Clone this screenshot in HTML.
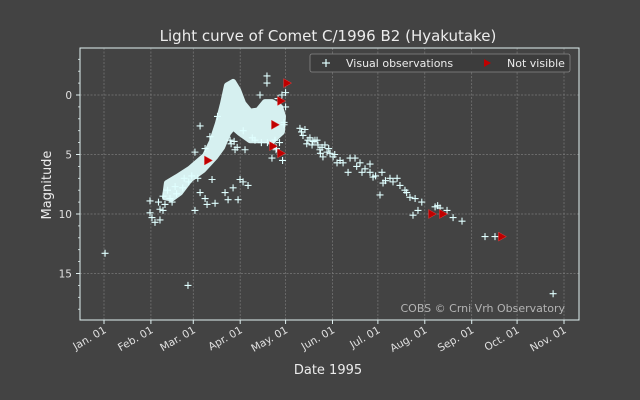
<!DOCTYPE html>
<html><head><meta charset="utf-8"><style>
html,body{margin:0;padding:0;background:#434343;}
svg{display:block;font-family:"DejaVu Sans","Liberation Sans",sans-serif;}
</style></head><body>
<svg id="chart" width="640" height="400">
<rect x="0" y="0" width="640" height="400" fill="#434343"/>
<text x="328" y="41" text-anchor="middle" font-size="15" fill="#ececec">Light curve of Comet C/1996 B2 (Hyakutake)</text>
<g id="grid"></g>
<g id="marks"></g>
<rect x="80" y="48" width="499" height="272" fill="none" stroke="#e0f0f0" stroke-width="1"/>
<g id="axes"></g>
<text transform="translate(51,185) rotate(-90)" text-anchor="middle" font-size="13" fill="#ececec">Magnitude</text>
<text x="328" y="374" text-anchor="middle" font-size="13" fill="#ececec">Date 1995</text>
<text x="565" y="312" text-anchor="end" font-size="11" fill="#b4b4b4">COBS © Crni Vrh Observatory</text>
<g>
<rect x="310" y="54" width="260" height="18" rx="2" fill="#3c3c3c" stroke="#888" stroke-width="0.8"/>
<g stroke="#e0ffff" stroke-width="1.2"><line x1="322" y1="63" x2="330" y2="63"/><line x1="326" y1="59" x2="326" y2="67"/></g>
<text x="346" y="67" font-size="11" fill="#ececec">Visual observations</text>
<path d="M484,59 L491,63 L484,67 Z" fill="#c00000"/>
<text x="507" y="67" font-size="11" fill="#ececec">Not visible</text>
</g>
</svg>
<script>
// x: day of year 1995 (Jan 01 = 0); y: magnitude (inverted)
const monthLabels = ["Jan. 01","Feb. 01","Mar. 01","Apr. 01","May. 01","Jun. 01","Jul. 01","Aug. 01","Sep. 01","Oct. 01","Nov. 01"];
const monthDays = [0,31,59,90,120,151,181,212,243,273,304];
const magTicks = [0,5,10,15];
// dense cloud outline (days, mags)
const cloudDays = [41.6,48.2,56.8,66.8,71.4,75.3,78.7,81.3,85.3,88.6,91.9,96.5,101.8,106.4,111.0,116.3,118.3,117.6,111.7,96.5,89.9,85.3,82.0,78.0,73.4,65.4,56.8,50.2,44.9,40.3];
const cloudMags = [7.4,6.9,6.2,5.1,3.9,2.4,0.7,-0.8,-1.1,-0.4,0.7,1.4,1.3,0.6,0.6,1.0,1.8,3.1,3.8,3.8,3.2,2.7,3.2,4.4,5.2,6.3,7.1,8.2,8.7,8.6];
// individual visual observations
const obsDays = [0.7,55.5,296.8,30.4,30.4,31.7,33.7,37,39,40.3,43.6,63.5,66.8,60.1,62,66.8,68.1,73.4,80,85.3,89.9,91.9,95.2,82,88.6,71.4,63.5,60.1,86.6,103.1,107.7,107.7,115,113,111,113.7,117.6,93.2,99.8,83.3,
129.5,131.5,134.8,138.1,141.4,144.1,147.4,149.4,144.7,154,158,162.6,165.9,161.3,169.2,170.5,175.8,175.8,177.8,183.7,182.4,184.4,189,193.7,195.6,198.9,202.2,205.6,207.5,204.2,218.8,222.1,226.7,230.7,236.6,251.8,258.4,
132.8,136.1,139.4,142.7,146,151.4,140.8,137.5,130.5,134,143,148.5,152.5,156,167,172.5,179.5,186,191,200,210,220.5,
45,48,52,56,70,75,92,98,104,110,116,119,120,120,118,37,36,39,42,47,53,58,84,86,88,112,108,114,119];
const obsMags = [13.3,16.0,16.7,8.9,9.9,10.3,10.7,10.5,9.7,9.2,8.7,2.6,4.5,4.8,7,8.7,9.2,9.1,8.2,7.8,7.1,7.3,7.6,8.8,8.8,7.1,8.2,9.7,4.6,0,-1.6,-1,0.3,3.8,5.3,4.6,0,4.6,3.8,3.8,
2.8,3.4,3.8,3.9,4.2,4.4,4.8,4.9,5.2,5.7,5.7,5.3,5.3,6.5,5.7,6.5,5.8,6.5,6.9,6.5,8.4,7.4,7.0,7.0,7.6,8.0,8.6,8.7,9.7,10.1,9.4,9.5,9.7,10.3,10.6,11.9,11.9,
2.9,3.6,3.8,4.6,4.2,5.2,3.8,4.2,3.1,4.1,4.9,4.5,5.0,5.5,6.0,6.2,6.8,7.2,7.3,8.2,9.0,9.3,
9.0,8.3,7.8,7.3,3.5,1.8,3.0,3.6,4.0,4.1,4.0,2.5,1.0,-0.2,5.5,9.6,9.0,8.5,8.0,7.7,7.0,6.8,4.1,3.9,4.4,4.2,4.0,4.5,2.3];
// not-visible observations
const nvDays = [68.7,113,117,111.7,117,121,216.8,224,263];
const nvMags = [5.5,2.5,0.5,4.3,4.9,-1.0,10.0,10.0,11.9];

const NS = "http://www.w3.org/2000/svg";
const X0 = 80, X1 = 579, Y0 = 48, Y1 = 320;
function xs(d){ return 104 + d * (460 / 304); }
function ys(m){ return 95 + m * 11.9; }
function mk(tag, attrs, parent){ const e = document.createElementNS(NS, tag); for (const k in attrs) e.setAttribute(k, attrs[k]); parent.appendChild(e); return e; }
const grid = document.getElementById("grid"), axes = document.getElementById("axes"), marks = document.getElementById("marks");

monthDays.forEach((d, i) => {
  const x = xs(d);
  const g = mk("line", {x1:x, x2:x, y1:Y0, y2:Y1, stroke:"#7a7a7a", "stroke-width":0.7, "stroke-dasharray":"2,1.5"}, grid);
  
  
  const t = mk("line", {x1:x, x2:x, y1:Y1, y2:Y1 + 4, stroke:"#e0f0f0", "stroke-width":1}, axes);
  
  
  const l = mk("text", {x:x + 3, y:Y1 + 12, "text-anchor":"end", "font-size":10.5, fill:"#e0e0e0", transform:`rotate(-30 ${x + 3} ${Y1 + 12})`}, axes);
  l.textContent = monthLabels[i];
  
  
});
magTicks.forEach(m => {
  const y = ys(m);
  const g = mk("line", {x1:X0, x2:X1, y1:y, y2:y, stroke:"#7a7a7a", "stroke-width":0.7, "stroke-dasharray":"2,1.5"}, grid);
  
  
  const t = mk("line", {x1:X0 - 4, x2:X0, y1:y, y2:y, stroke:"#e0f0f0", "stroke-width":1}, axes);
  
  
  const l = mk("text", {x:X0 - 8, y:y + 4, "text-anchor":"end", "font-size":10.5, fill:"#e0e0e0"}, axes);
  l.textContent = String(m);
  
  
});
for (let m = -3; m <= 18; m++) {
  if (m % 5 === 0) continue;
  const y = ys(m);
  const t = mk("line", {x1:X0 - 2, x2:X0, y1:y, y2:y, stroke:"#e0f0f0", "stroke-width":0.8}, axes);
  
  
}

const pts = cloudDays.map((d, i) => xs(d).toFixed(1) + "," + ys(cloudMags[i]).toFixed(1)).join(" ");
const cloud = mk("polygon", {points:pts, fill:"#d6f0f0", stroke:"#d6f0f0", "stroke-width":6, "stroke-linejoin":"round"}, marks);



obsDays.forEach((d, i) => {
  const x = xs(d), y = ys(obsMags[i]);
  const p = mk("path", {d:`M${x - 3.5},${y}H${x + 3.5}M${x},${y - 3.5}V${y + 3.5}`, stroke:"#e0ffff", "stroke-width":1.1, fill:"none"}, marks);
  
  
});
nvDays.forEach((d, i) => {
  const x = xs(d), y = ys(nvMags[i]);
  const p = mk("path", {d:`M${x - 3.5},${y - 4.5}L${x + 4.5},${y}L${x - 3.5},${y + 4.5}Z`, fill:"#c00000", stroke:"#e04040", "stroke-width":0.5}, marks);
  
  
});
</script>
</body></html>
